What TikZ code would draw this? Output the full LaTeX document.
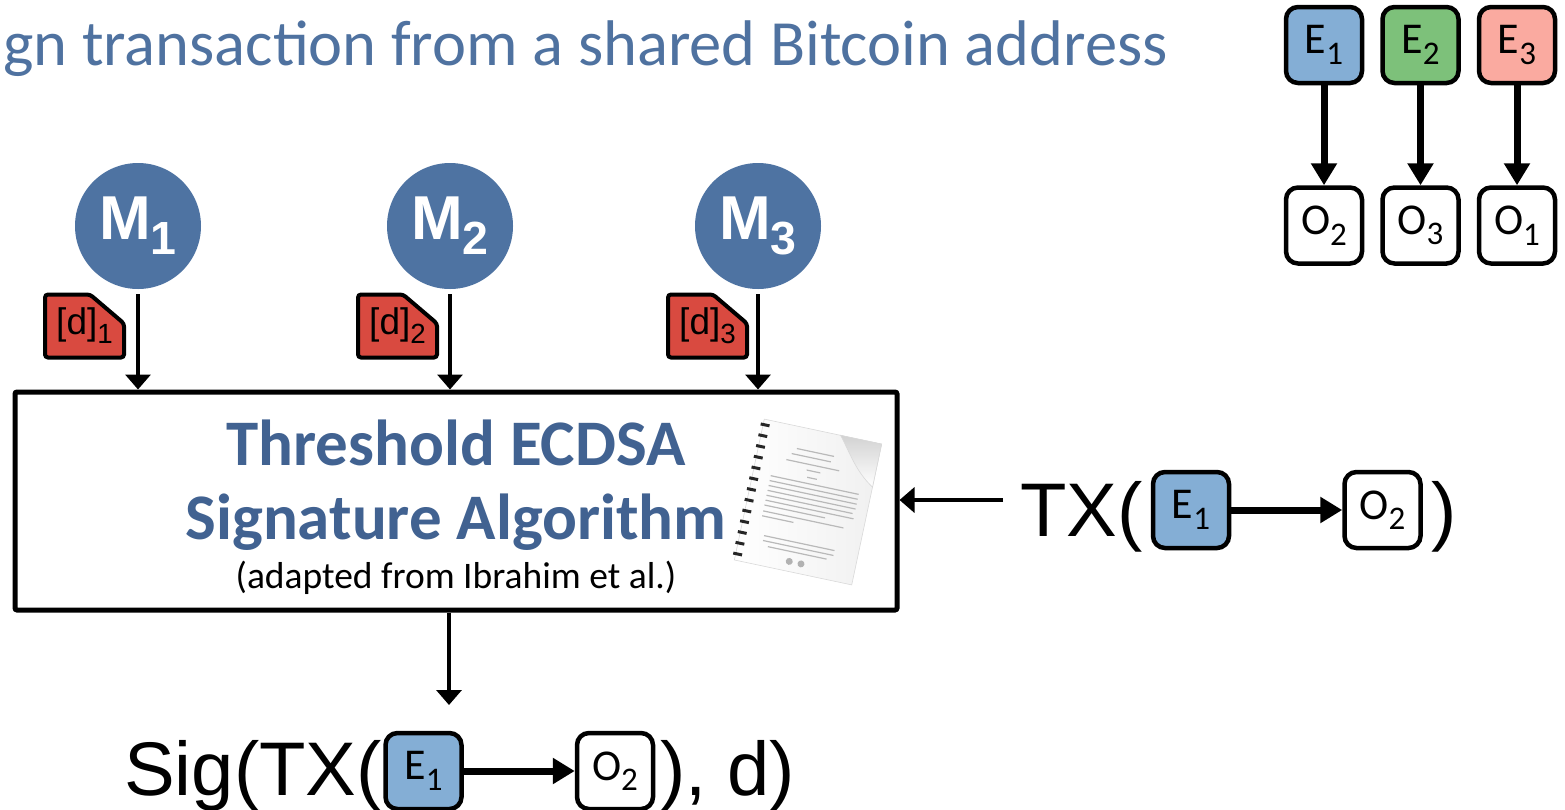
\documentclass[tikz,border=0pt]{standalone}
\usepackage{fontspec}
\setmainfont{Carlito}
\newfontfamily\arialfont{Liberation Sans}
\usetikzlibrary{arrows.meta,positioning,backgrounds}

\definecolor{slideblue}{HTML}{4F72A0}
\definecolor{partyblue}{HTML}{4E73A2}
\definecolor{headblue}{HTML}{416291}
\definecolor{entblue}{HTML}{84AED5}
\definecolor{entgreen}{HTML}{7DC17A}
\definecolor{entred}{HTML}{FAAAA0}
\definecolor{keyred}{HTML}{D94A40}

\newcommand\idx[1]{\raisebox{-.24em}{\scalebox{.75}{#1}}}

\tikzset{
  tx/entry/.style={draw, rounded corners=12pt, line width=4.5pt, minimum width=76pt, minimum height=76pt, inner sep=0pt, font=\fontsize{44}{52}\selectfont},
  tx/output/.style={tx/entry, fill=white},
  tx/link/.style={line width=7pt, -{Triangle[width=25pt,length=22pt]}},
  tx/big/.style={inner sep=0pt, font=\arialfont\fontsize{76}{92}\selectfont},
  mpc/party/.style={circle, fill=partyblue, minimum size=126pt, inner sep=0pt, text=white, font=\arialfont\bfseries\fontsize{62}{74}\selectfont},
  mpc/share/.style={rectangle, minimum width=79pt, minimum height=63pt, inner sep=0pt, outer sep=0pt, font=\arialfont\fontsize{37}{44}\selectfont},
  mpc/keyshape/.style={draw, fill=keyred, line width=4pt, rounded corners=3pt},
  mpc/flow/.style={line width=3.5pt, -{Triangle[width=25pt,length=15pt]}},
  mpc/algo/.style={draw, line width=5pt, rounded corners=2pt, minimum width=882pt, minimum height=218pt},
  mpc/head/.style={inner sep=0pt, text=headblue, font=\bfseries\fontsize{65}{78}\selectfont},
  paper/text/.style={line width=1.2pt, gray!55}
}

\begin{document}
\begin{tikzpicture}[x=1pt, y=-1pt]
  \useasboundingbox (0,0) rectangle (1565,809);

  % slide heading, cut at the left edge
  \node[anchor=base west, inner sep=0pt, text=slideblue, font=\fontsize{64.5}{76}\selectfont] (heading) at (3,65) {gn transaction from a shared Bitcoin address};

  % entries of the shared address and where they go
  \node[tx/entry, fill=entblue] (e1) at (1324,45) {E\idx{1}};
  \node[tx/entry, fill=entgreen, right=16pt of e1] (e2) {E\idx{2}};
  \node[tx/entry, fill=entred, right=16pt of e2] (e3) {E\idx{3}};
  \node[tx/output, below=100pt of e1] (o2) {O\idx{2}};
  \node[tx/output, below=100pt of e2] (o3) {O\idx{3}};
  \node[tx/output, below=100pt of e3] (o1) {O\idx{1}};
  \draw[tx/link] (e1) -- (o2);
  \draw[tx/link] (e2) -- (o3);
  \draw[tx/link] (e3) -- (o1);

  % the three parties
  \node[mpc/party] (m1) at (138,226) {M\idx{1}};
  \node[mpc/party] (m2) at (450,226) {M\idx{2}};
  \node[mpc/party] (m3) at (758,226) {M\idx{3}};

  % key shares held by the parties
  \node[mpc/share] (key1) at (84.5,326) {[d]\idx{1}};
  \node[mpc/share] (key2) at (397.5,326) {[d]\idx{2}};
  \node[mpc/share] (key3) at (707.5,326) {[d]\idx{3}};
  \begin{scope}[on background layer]
    \draw[mpc/keyshape] (key1.north west) -- ([xshift=-34pt]key1.north east) -- ([yshift=-29pt]key1.north east) |- (key1.south west) -- cycle;
    \draw[mpc/keyshape] (key2.north west) -- ([xshift=-34pt]key2.north east) -- ([yshift=-29pt]key2.north east) |- (key2.south west) -- cycle;
    \draw[mpc/keyshape] (key3.north west) -- ([xshift=-34pt]key3.north east) -- ([yshift=-29pt]key3.north east) |- (key3.south west) -- cycle;
  \end{scope}

  % signing protocol
  \node[mpc/algo] (algo) at (456,501) {};
  \draw[mpc/flow, shorten <=5pt] (m1) -- (m1 |- algo.north);
  \draw[mpc/flow, shorten <=5pt] (m2) -- (m2 |- algo.north);
  \draw[mpc/flow, shorten <=5pt] (m3) -- (m3 |- algo.north);

  % paper icon
  \begin{scope}[shift={(808,502)}, rotate=-12]
    \shade[left color=white, right color=gray!12, draw=gray!30, line width=0.6pt] (-60,-72) rectangle (60,72);
    \shade[top color=gray!35, bottom color=white, draw=gray!30, line width=0.6pt]
      (18,-72) .. controls (30,-58) and (40,-40) .. (60,-28) -- (60,-72) -- cycle;
    \draw[paper/text] (-22,-50) -- (16,-50);
    \draw[paper/text] (-26,-44) -- (14,-44);
    \draw[paper/text] (-30,-37) -- (24,-37);
    \draw[paper/text] (-8,-31) -- (6,-31);
    \draw[paper/text] (-6,-24) -- (4,-24);
    \draw[paper/text] (-42,-18) -- (48,-18);
    \draw[paper/text] (-42,-13) -- (48,-13);
    \draw[paper/text] (-42,-8) -- (48,-8);
    \draw[paper/text] (-42,-3) -- (48,-3);
    \draw[paper/text] (-42,2) -- (46,2);
    \draw[paper/text] (-42,7) -- (48,7);
    \draw[paper/text] (-42,12) -- (20,12);
    \draw[paper/text] (-42,18) -- (40,18);
    \draw[paper/text] (-42,23) -- (-10,23);
    \draw[paper/text] (-36,42) -- (36,42);
    \draw[paper/text] (-36,47) -- (36,47);
    \draw[paper/text] (-30,52) -- (30,52);
    \fill[gray!60] (-6,62) circle (3.5pt) (6,62) circle (3.5pt);
    \draw[line width=9pt, dash pattern=on 3pt off 8pt, black!85] (-58,-68) -- (-58,68);
  \end{scope}

  \node[mpc/head, anchor=base] (algoname) at (456,465) {Threshold ECDSA};
  \node[mpc/head, anchor=base] (algoname2) at (456,539) {Signature Algorithm};
  \node[anchor=base, inner sep=0pt, font=\fontsize{37.5}{44}\selectfont] (algonote) at (456,588) {(adapted from Ibrahim et al.)};

  % transaction handed to the protocol
  \node[tx/entry, fill=entblue] (te1) at (1191,510) {E\idx{1}};
  \node[tx/output, right=111pt of te1] (to2) {O\idx{2}};
  \node[tx/big, anchor=base east] (txopen) at (1143,536) {TX(};
  \node[tx/big, anchor=base west] (txclose) at (1431,536) {)};
  \draw[tx/link] (te1) -- (to2);
  \coordinate (txin) at (1003,500);
  \draw[mpc/flow] (txin) -- (txin -| algo.east);

  % resulting signature
  \coordinate (sigin) at (449,705);
  \draw[mpc/flow] (algo.south -| sigin) -- (sigin);
  \node[tx/entry, fill=entblue] (se1) at (423.5,771) {E\idx{1}};
  \node[tx/output, right=111pt of se1] (so2) {O\idx{2}};
  \node[tx/big, anchor=base east] (sigopen) at (382,795) {Sig(TX(};
  \node[tx/big, anchor=base west] (sigclose) at (660,795) {), d)};
  \draw[tx/link] (se1) -- (so2);
\end{tikzpicture}
\end{document}
